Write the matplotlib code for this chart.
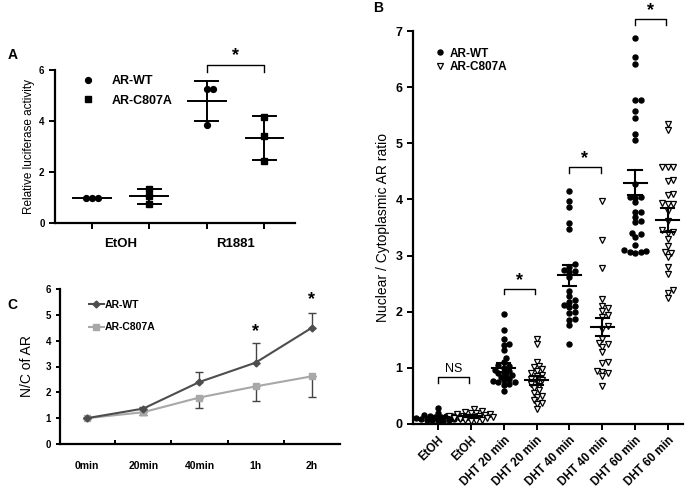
import numpy as np
import matplotlib
matplotlib.use('Agg')
import matplotlib.pyplot as plt
from matplotlib.lines import Line2D

plt.rcParams['font.family'] = ['Liberation Sans', 'DejaVu Sans']
plt.rcParams['font.weight'] = 'bold'
plt.rcParams['axes.linewidth'] = 1.6

# ---- panel A data ----
a_groups = ['EtOH', 'R1881']
a_wt = [[1.0, 1.0, 1.0], [5.25, 5.25, 3.85]]
a_mut = [[1.35, 1.05, 0.75], [4.15, 3.4, 2.45]]
a_wt_mean = [1.0, 4.78]
a_wt_sd = [0.0, 0.78]
a_mut_mean = [1.05, 3.33]
a_mut_sd = [0.3, 0.87]

# ---- panel B data ----
b_labels = ['EtOH', 'EtOH', 'DHT 20 min', 'DHT 20 min',
            'DHT 40 min', 'DHT 40 min', 'DHT 60 min', 'DHT 60 min']
b_vals = [
    [0.28, 0.2, 0.18, 0.16, 0.15, 0.14, 0.14, 0.13, 0.13, 0.12, 0.12, 0.11,
     0.11, 0.1, 0.1, 0.09, 0.09, 0.08, 0.08, 0.07, 0.06, 0.05],
    [0.26, 0.24, 0.22, 0.2, 0.2, 0.18, 0.17, 0.16, 0.15, 0.14, 0.14, 0.13,
     0.12, 0.12, 0.11, 0.1, 0.09, 0.08, 0.07, 0.06, 0.05],
    [1.96, 1.68, 1.51, 1.42, 1.41, 1.31, 1.17, 1.1, 1.05, 1.03, 1.0, 0.97, 0.94,
     0.92, 0.9, 0.88, 0.86, 0.84, 0.8, 0.78, 0.76, 0.75, 0.74, 0.72, 0.7, 0.58],
    [1.52, 1.42, 1.1, 1.04, 1.02, 0.98, 0.95, 0.9, 0.88, 0.85, 0.8, 0.78, 0.75,
     0.72, 0.68, 0.65, 0.6, 0.55, 0.5, 0.48, 0.42, 0.38, 0.35, 0.27],
    [4.15, 3.98, 3.87, 3.58, 3.48, 2.85, 2.8, 2.75, 2.73, 2.7, 2.62, 2.37, 2.28,
     2.2, 2.18, 2.12, 2.1, 2.08, 2.0, 1.98, 1.87, 1.85, 1.77, 1.42],
    [3.97, 3.28, 2.77, 2.23, 2.1, 2.07, 2.02, 1.95, 1.9, 1.75, 1.7, 1.52, 1.45,
     1.42, 1.38, 1.28, 1.1, 1.08, 0.95, 0.93, 0.9, 0.85, 0.67],
    [6.87, 6.53, 6.42, 5.77, 5.77, 5.57, 5.45, 5.17, 5.06, 4.27, 4.05, 4.05, 4.03,
     3.95, 3.78, 3.78, 3.68, 3.62, 3.6, 3.4, 3.38, 3.33, 3.18, 3.1, 3.08, 3.06,
     3.06, 3.05],
    [5.35, 5.23, 4.57, 4.57, 4.57, 4.35, 4.33, 4.1, 4.07, 3.93, 3.92, 3.92, 3.8,
     3.62, 3.45, 3.42, 3.4, 3.3, 3.17, 3.07, 3.05, 2.98, 2.8, 2.67, 2.38, 2.33,
     2.25],
]
b_mean = [0.12, 0.14, 1.0, 0.78, 2.65, 1.72, 4.3, 3.63]
b_sem = [0.02, 0.02, 0.08, 0.08, 0.19, 0.16, 0.22, 0.21]
b_sig = [(0, 0.83, 'NS'), (2, 2.41, '*'), (4, 4.57, '*'), (6, 7.21, '*')]

# ---- panel C data ----
c_times = ['0min', '20min', '40min', '1h', '2h']
c_wt = [1.0, 1.37, 2.4, 3.15, 4.5]
c_wt_err = [0.0, 0.07, 0.38, 0.75, 0.57]
c_mut = [1.0, 1.23, 1.8, 2.23, 2.62]
c_mut_err = [0.0, 0.12, 0.4, 0.57, 0.8]
c_sig_y = [4.35, 5.6]


def swarm(vals, center, ux, uy, d, overlap=0.85):
    # spread points sideways so they do not overlap (ux, uy: pixels per unit)
    vals = np.asarray(vals, float)
    xs = np.zeros(len(vals))
    placed = []
    for i in np.argsort(vals):
        y = vals[i] * uy
        cands = [0.0]
        for k in range(1, 12):
            cands += [k * d * 0.5, -k * d * 0.5]
        for c in cands:
            if all((c - px) ** 2 + (y - py) ** 2 >= (overlap * d) ** 2 for px, py in placed):
                break
        placed.append((c, y))
        xs[i] = center + c / ux
    return xs


fig = plt.figure(figsize=(7, 5.04), dpi=100)

# ================= A =================
axA = fig.add_axes([55 / 700, 1 - 223 / 504, 240 / 700, 153 / 504])
uxA, uyA = 57.5, 25.5
for g in range(2):
    for k, (pts, mean, sd, mk) in enumerate([(a_wt[g], a_wt_mean[g], a_wt_sd[g], 'o'),
                                              (a_mut[g], a_mut_mean[g], a_mut_sd[g], 's')]):
        pos = 2 * g + k
        xs = swarm(pts, pos, uxA, uyA, 6)
        axA.plot(xs, pts, mk, color='black', ms=4.2 if mk == 'o' else 4, zorder=3)
        axA.plot([pos - 0.33, pos + 0.33], [mean, mean], color='black', lw=1.4)
        if sd > 0:
            axA.plot([pos, pos], [mean - sd, mean + sd], color='black', lw=1.4)
            for yy in (mean - sd, mean + sd):
                axA.plot([pos - 0.2, pos + 0.2], [yy, yy], color='black', lw=1.4)
axA.set_xlim(-0.64, 3.53)
axA.set_ylim(0, 6)
axA.set_yticks([0, 2, 4, 6])
axA.set_xticks([0, 1, 2, 3])
axA.set_xticklabels([])
axA.set_xticks([0.5, 2.5], minor=True)
axA.set_xticklabels(a_groups, minor=True, fontsize=9.5)
axA.tick_params(axis='x', which='minor', length=0, pad=11)
axA.tick_params(axis='both', which='major', length=4, width=1.4, labelsize=7)
axA.spines['top'].set_visible(False)
axA.spines['right'].set_visible(False)
axA.set_ylabel('Relative luciferase activity', fontsize=8.5, fontweight='normal', labelpad=3)
axA.plot([2, 2, 3, 3], [5.93, 6.2, 6.2, 5.93], color='black', lw=1.0, clip_on=False)
axA.text(2.5, 6.22, '*', ha='center', va='bottom', fontsize=13)
hA = [Line2D([], [], ls='', marker='o', color='black', ms=4.2),
      Line2D([], [], ls='', marker='s', color='black', ms=4)]
axA.legend(hA, ['AR-WT', 'AR-C807A'], loc='upper left', bbox_to_anchor=(0.04, 1.04),
           frameon=False, fontsize=9, handletextpad=0.9, labelspacing=0.6)

# ================= B =================
axB = fig.add_axes([413 / 700, 1 - 424 / 504, 270 / 700, 393 / 504])
uxB, uyB = 32.86, 56.0
for i, vals in enumerate(b_vals):
    xs = swarm(vals, i, uxB, uyB, 5.5, overlap=0.72)
    if i % 2 == 0:
        axB.plot(xs, vals, 'o', color='black', ms=3.6, zorder=3)
    else:
        axB.plot(xs, vals, 'v', mfc='white', mec='black', mew=0.9, ms=4.3, zorder=3)
    m, s = b_mean[i], b_sem[i]
    axB.plot([i - 0.35, i + 0.35], [m, m], color='black', lw=1.5, zorder=4)
    axB.plot([i, i], [m - s, m + s], color='black', lw=1.5, zorder=4)
    for yy in (m - s, m + s):
        axB.plot([i - 0.2, i + 0.2], [yy, yy], color='black', lw=1.5, zorder=4)
for pos, yb, lab in b_sig:
    axB.plot([pos, pos, pos + 0.95, pos + 0.95], [yb - 0.1, yb, yb, yb - 0.1],
             color='black', lw=1.0, clip_on=False)
    if lab == 'NS':
        axB.text(pos + 0.47, yb + 0.05, lab, ha='center', va='bottom', fontsize=9,
                 fontweight='normal')
    else:
        axB.text(pos + 0.47, yb + 0.0, lab, ha='center', va='bottom', fontsize=13)
axB.set_xlim(-0.76, 7.46)
axB.set_ylim(0, 7)
axB.set_xticks(range(8))
axB.set_xticklabels(b_labels, rotation=45, ha='right', rotation_mode='anchor', fontsize=8.5)
axB.tick_params(axis='both', length=4, width=1.4)
axB.tick_params(axis='y', labelsize=9)
axB.spines['top'].set_visible(False)
axB.spines['right'].set_visible(False)
axB.set_ylabel('Nuclear / Cytoplasmic AR ratio', fontsize=10, labelpad=4)
hB = [Line2D([], [], ls='', marker='o', color='black', ms=3.6),
      Line2D([], [], ls='', marker='v', mfc='white', mec='black', mew=0.9, ms=4.3)]
axB.legend(hB, ['AR-WT', 'AR-C807A'], loc='upper left', bbox_to_anchor=(0.04, 0.985),
           frameon=False, fontsize=8.5, handletextpad=0.3, labelspacing=0.15,
           handlelength=1.0)

# ================= C =================
axC = fig.add_axes([60 / 700, 1 - 444 / 504, 280 / 700, 155 / 504])
xc = np.arange(len(c_times))
wt_col, mut_col = '#4d4d4d', '#a8a8a8'
axC.errorbar(xc, c_mut, yerr=[c_mut_err, np.zeros(5)], color=mut_col, marker='s', ms=5,
             lw=1.5, ecolor='#444444', elinewidth=1.0, capsize=3, capthick=1.0,
             label='AR-C807A', zorder=2)
axC.errorbar(xc, c_wt, yerr=[np.zeros(5), c_wt_err], color=wt_col, marker='D', ms=3.5,
             lw=1.5, ecolor='#444444', elinewidth=1.0, capsize=3, capthick=1.0,
             label='AR-WT', zorder=3)
for x, y in zip([3, 4], c_sig_y):
    axC.text(x, y, '*', ha='center', va='center', fontsize=13)
axC.set_xlim(-0.48, 4.5)
axC.set_ylim(0, 6)
axC.set_yticks(range(7))
axC.set_xticks(xc)
axC.set_xticklabels(c_times, fontsize=7.5)
axC.tick_params(axis='x', which='major', length=0, pad=12)
axC.set_xticks([0.5, 1.5, 2.5, 3.5], minor=True)
axC.tick_params(axis='x', which='minor', length=3, width=1.4, direction='in')
axC.tick_params(axis='y', length=3, width=1.4, labelsize=7)
axC.spines['top'].set_visible(False)
axC.spines['right'].set_visible(False)
axC.set_ylabel('N/C of AR', fontsize=10, labelpad=8)
hC = [Line2D([], [], color=wt_col, marker='D', ms=3.5, lw=1.5),
      Line2D([], [], color=mut_col, marker='s', ms=5, lw=1.5)]
axC.legend(hC, ['AR-WT', 'AR-C807A'], loc='upper left', bbox_to_anchor=(0.07, 0.99),
           frameon=False, fontsize=7.5, handlelength=1.4, handletextpad=0.1,
           labelspacing=1.2)

fig.text(0.011, 0.89, 'A', fontsize=10, va='center')
fig.text(0.533, 0.985, 'B', fontsize=10, va='center')
fig.text(0.011, 0.395, 'C', fontsize=10, va='center')

fig.savefig('out.png', dpi=100, facecolor='white')
